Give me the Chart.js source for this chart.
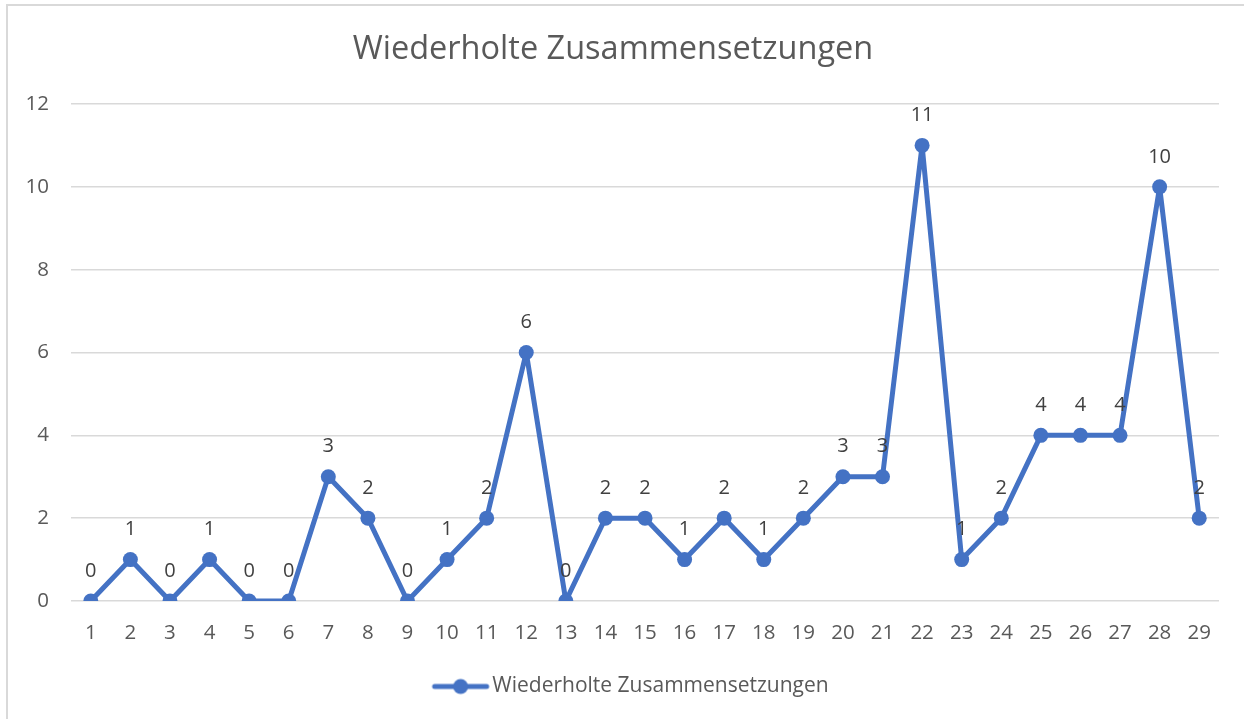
<!DOCTYPE html>
<html>
<head>
<meta charset="utf-8">
<script src="https://cdn.jsdelivr.net/npm/chart.js@4"></script>
<style>
  html, body { margin: 0; padding: 0; background: #fff; }
  #wrap { position: relative; width: 1244px; height: 719px; overflow: hidden; }
  #chart { position: absolute; left: 0; top: 0; }
  .frame {
    position: absolute; left: 6px; top: 4px; width: 1240px; height: 720px;
    border-left: 2px solid #d9d9d9; border-top: 2px solid #d9d9d9;
    pointer-events: none;
  }
</style>
</head>
<body>
<div id="wrap">
  <canvas id="chart" width="1244" height="719"></canvas>
  <div class="frame"></div>
</div>
<script>
// Werte aus dem Diagramm
const LABELS = ["1","2","3","4","5","6","7","8","9","10","11","12","13","14","15",
  "16","17","18","19","20","21","22","23","24","25","26","27","28","29"];
const VALUES = [0,1,0,1,0,0,3,2,0,1,2,6,0,2,2,1,2,1,2,3,3,11,1,2,4,4,4,10,2];
const SERIES_NAME = "Wiederholte Zusammensetzungen";
const TITLE = "Wiederholte Zusammensetzungen";
const Y_MIN = 0, Y_MAX = 12, Y_STEP = 2;

const BLUE = "#4472c4";
const GRID = "#d9d9d9";
const TICK = "#595959";
const LABEL = "#404040";
const FONT = '"Open Sans", "Noto Sans", Arial, sans-serif';

// Legendensymbol: Linie mit Punkt (rechts im Bild, damit der Abstand zum Text passt)
function legendSymbol() {
  const c = document.createElement("canvas");
  c.width = 120; c.height = 18;
  const g = c.getContext("2d");
  const cx = 81;
  g.strokeStyle = BLUE; g.lineWidth = 5; g.lineCap = "round";
  g.beginPath(); g.moveTo(cx - 26, 9); g.lineTo(cx + 26, 9); g.stroke();
  g.fillStyle = BLUE;
  g.beginPath(); g.arc(cx, 9, 7.5, 0, Math.PI * 2); g.fill();
  return c;
}

// Datenbeschriftungen über den Punkten
const dataLabels = {
  id: "dataLabels",
  afterDatasetsDraw(chart) {
    const ctx = chart.ctx;
    const meta = chart.getDatasetMeta(0);
    ctx.save();
    ctx.font = `20px ${FONT}`;
    ctx.fillStyle = LABEL;
    ctx.textAlign = "center";
    ctx.textBaseline = "middle";
    meta.data.forEach((pt, i) => {
      ctx.fillText(String(VALUES[i]), pt.x, pt.y - 30);
    });
    ctx.restore();
  },
};

new Chart(document.getElementById("chart"), {
  type: "line",
  data: {
    labels: LABELS,
    datasets: [{
      label: SERIES_NAME,
      data: VALUES,
      borderColor: BLUE,
      backgroundColor: BLUE,
      borderWidth: 5,
      borderJoinStyle: "round",
      borderCapStyle: "round",
      pointRadius: 7.5,
      pointHoverRadius: 7.5,
      pointBackgroundColor: BLUE,
      pointBorderWidth: 0,
      pointStyle: "circle",
      tension: 0,
    }],
  },
  options: {
    responsive: false,
    animation: false,
    layout: { padding: { left: 7, right: 25, top: 0, bottom: 12 } },
    plugins: {
      tooltip: { enabled: false },
      title: {
        display: true,
        text: TITLE,
        color: TICK,
        font: { family: FONT, size: 32.5, weight: "normal" },
        padding: { top: 30, bottom: 35 },
      },
      legend: {
        position: "bottom",
        labels: {
          color: TICK,
          font: { family: FONT, size: 21 },
          usePointStyle: true,
          pointStyle: legendSymbol(),
          pointStyleWidth: 84.5,
          padding: 8,
        },
      },
    },
    scales: {
      x: {
        offset: true,
        grid: { display: false },
        border: { display: false },
        ticks: { color: TICK, font: { family: FONT, size: 20.5 }, padding: 12, maxRotation: 0, autoSkip: false },
        afterFit(scale) { scale.height = 67; },
      },
      y: {
        min: Y_MIN,
        max: Y_MAX,
        border: { display: false },
        grid: { color: GRID, lineWidth: 1.5, drawTicks: false },
        ticks: { stepSize: Y_STEP, color: TICK, font: { family: FONT, size: 20.5 }, padding: 22 },
        afterFit(scale) { scale.width = 64; },
      },
    },
  },
  plugins: [dataLabels],
});
</script>
</body>
</html>
